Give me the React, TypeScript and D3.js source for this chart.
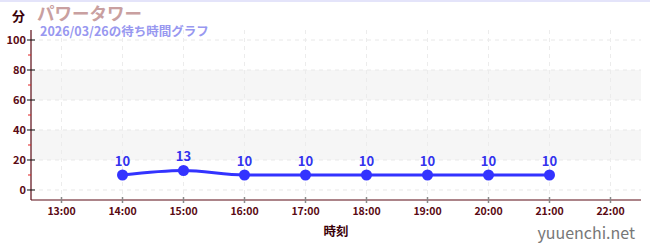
import React from "react";
import * as d3 from "d3";

const times = ["14:00", "15:00", "16:00", "17:00", "18:00", "19:00", "20:00", "21:00"];
const waits = [10, 13, 10, 10, 10, 10, 10, 10];
const xTickLabels = ["13:00", "14:00", "15:00", "16:00", "17:00", "18:00", "19:00", "20:00", "21:00", "22:00"];
const yTicks = [0, 20, 40, 60, 80, 100];
const yMinorTicks = [10, 30, 50, 70, 90];
const bands = [[20, 40], [60, 80]];
const title = "パワータワー";
const subtitle = "2026/03/26の待ち時間グラフ";

const W = 650, H = 250;
const left = 31, right = 641, top = 30, bottom = 200;
const FONT = "'Noto Sans CJK JP', 'Noto Sans', sans-serif";

const toH = (s: string) => { const [h, m] = s.split(":").map(Number); return h + m / 60; };

export default function App() {
  const x = d3.scaleLinear().domain([12.5, 22.5]).range([left, right]);
  const y = d3.scaleLinear().domain([-6.67, 106.67]).range([bottom, top]);
  const pts = times.map((t, i) => [x(toH(t)), y(waits[i])] as [number, number]);
  const line = d3.line().curve(d3.curveMonotoneX)(pts) || "";
  const dark = "#5a0a14";
  return (
    <svg width={W} height={H} style={{ position: "absolute", left: 0, top: 0 }} fontFamily={FONT}>
      <rect x={0} y={0} width={W} height={H} fill="#fff" />
      <line x1={0} x2={W} y1={1} y2={1} stroke="#e4e4fa" strokeWidth={2} />
      {bands.map(([a, b], i) => (
        <rect key={i} x={left} width={right - left} y={y(b)} height={y(a) - y(b)} fill="#f6f6f6" />
      ))}
      {yTicks.map(v => (
        <line key={"gy" + v} x1={left} x2={right} y1={y(v)} y2={y(v)} stroke="#e8e8e8" strokeDasharray="4,4" />
      ))}
      {xTickLabels.map(t => (
        <line key={"gx" + t} x1={x(toH(t))} x2={x(toH(t))} y1={top} y2={bottom} stroke="#ececec" strokeDasharray="4,4" />
      ))}
      <line x1={left} x2={left} y1={top} y2={bottom} stroke={dark} strokeWidth={1.2} />
      <line x1={left} x2={right} y1={bottom} y2={bottom} stroke={dark} strokeWidth={1.2} />
      {yTicks.map(v => (
        <g key={"ty" + v}>
          <line x1={left - 4} x2={left + 4} y1={y(v)} y2={y(v)} stroke="#111" />
          <text x={left - 5} y={y(v) + 4} textAnchor="end" fontSize={11} fontWeight="bold" fill={dark}>{v}</text>
        </g>
      ))}
      {yMinorTicks.map(v => (
        <line key={"my" + v} x1={left - 3} x2={left} y1={y(v)} y2={y(v)} stroke="#e02020" />
      ))}
      {xTickLabels.map(t => (
        <g key={"tx" + t}>
          <line x1={x(toH(t))} x2={x(toH(t))} y1={bottom - 3} y2={bottom + 3} stroke="#888" strokeWidth={1.5} />
          <text x={x(toH(t))} y={bottom + 15} textAnchor="middle" fontSize={10.5} fontWeight="bold" fill={dark}>{t}</text>
        </g>
      ))}
      <path d={line} fill="none" stroke="#3333ff" strokeWidth={3} />
      {pts.map((p, i) => (
        <g key={"p" + i}>
          <circle cx={p[0]} cy={p[1]} r={5.5} fill="#3333ff" />
          <text x={p[0]} y={p[1] - 9} textAnchor="middle" fontSize={13} fontWeight="bold" fill="#3333ee">{waits[i]}</text>
        </g>
      ))}
      <text x={12} y={21} fontSize={13} fontWeight="bold" fill="#3a0008">分</text>
      <text x={37} y={20} fontSize={17.5} fontWeight="bold" fill="#c9a0a0">{title}</text>
      <text x={40} y={36} fontSize={12.5} fontWeight="bold" fill="#9898f0">{subtitle}</text>
      <text x={336} y={236} textAnchor="middle" fontSize={12.5} fontWeight="bold" fill="#3a0008">時刻</text>
      <text x={635} y={239} textAnchor="end" fontSize={16} fill="#777">yuuenchi.net</text>
    </svg>
  );
}
